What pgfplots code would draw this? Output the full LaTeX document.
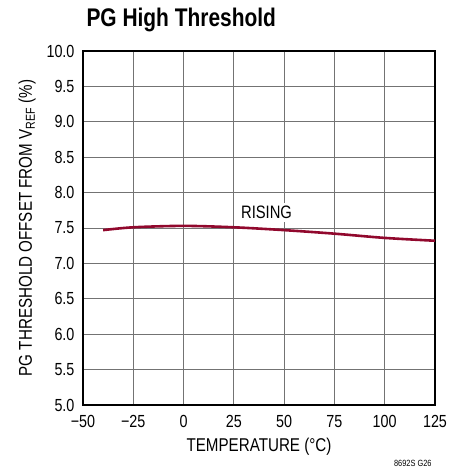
\documentclass[border=0pt]{standalone}
\usepackage{fontspec}
\setmainfont{Liberation Sans}[FakeStretch=0.82]
\usepackage{pgfplots}
\pgfplotsset{compat=1.18}
\definecolor{curve}{RGB}{145,8,45}
\begin{document}
\begin{tikzpicture}[x=1pt,y=1pt]
\useasboundingbox (-83,-69) rectangle (367,405);
\begin{axis}[
  at={(0,0)}, anchor=south west,
  scale only axis, width=352pt, height=354pt,
  xmin=-50, xmax=125, ymin=5, ymax=10,
  xtick={-50,-25,0,25,50,75,100,125},
  xticklabels={−50,−25,0,25,50,75,100,125},
  ytick={5,5.5,6,6.5,7,7.5,8,8.5,9,9.5,10},
  yticklabels={5.0,5.5,6.0,6.5,7.0,7.5,8.0,8.5,9.0,9.5,10.0},
  major tick length=0pt,
  grid=major,
  major grid style={draw=black!55, line width=1pt},
  axis line style={draw=black, line width=1.6pt},
  tick label style={font=\fontsize{17.5}{17.5}\selectfont},
  xticklabel style={yshift=-7pt},
  yticklabel style={xshift=-5pt},
  xlabel={TEMPERATURE (°C)},
  ylabel={PG THRESHOLD OFFSET FROM V\textsubscript{REF} (\%)},
  label style={font=\fontsize{18.5}{18.5}\selectfont},
  xlabel style={yshift=-3pt},
  ylabel style={yshift=4pt},
]
\addplot[color=curve, line width=2.6pt, smooth] coordinates {
(-40,7.47) (-25,7.51) (0,7.53) (25,7.51) (50,7.47) (75,7.42) (100,7.36) (125,7.32)
};
\node[fill=white, inner xsep=2pt, inner ysep=3pt, font=\fontsize{18}{18}\selectfont] at (axis cs:40,7.72) {\hspace{5pt}RISING};
\end{axis}
\node[anchor=base west, font=\fontsize{25.5}{25.5}\selectfont\bfseries] at (0,378) {PG High Threshold};
\node[anchor=base east, font=\fontsize{9}{9}\selectfont] at (352,-61) {8692S G26};
\end{tikzpicture}
\end{document}
